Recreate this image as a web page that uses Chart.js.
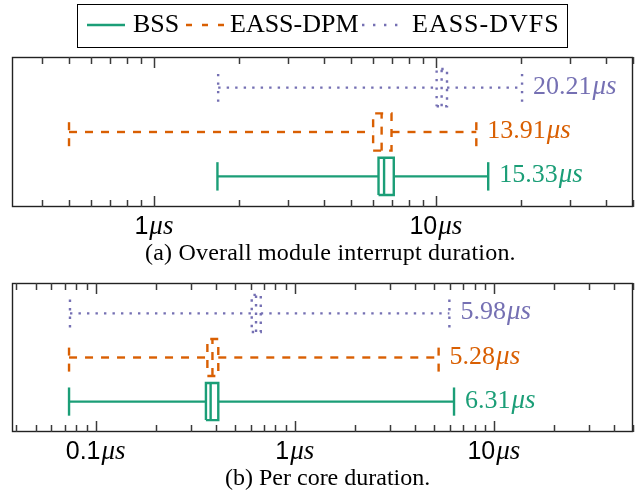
<!DOCTYPE html>
<html>
<head>
<meta charset="utf-8">
<script src="https://cdn.jsdelivr.net/npm/chart.js@4.4.1/dist/chart.umd.min.js"></script>
<style>
  html, body { margin: 0; padding: 0; background: #fff; }
  #wrap { position: relative; width: 639px; height: 501px; overflow: hidden; }
  canvas { position: absolute; left: 0; }
  .txt { position: absolute; font-family: 'Liberation Serif', 'Times New Roman', serif; color: #000; white-space: nowrap; }
  #legend { position: absolute; left: 77px; top: 4px; width: 489px; height: 42px; border: 1px solid #000; box-sizing: content-box; }
  .leg { font-size: 26px; line-height: 26px; }
  .cap { font-size: 24px; line-height: 24px; }
</style>
</head>
<body>
<div id="wrap">
  <canvas id="chartA" width="639" height="250" style="top:0px"></canvas>
  <canvas id="chartB" width="639" height="251" style="top:250px"></canvas>
  <div id="legend"></div>
  <div class="txt leg" style="left:133px;top:10.5px">BSS</div>
  <div class="txt leg" style="left:230px;top:10.5px">EASS-DPM</div>
  <div class="txt leg" style="left:412px;top:10.5px;letter-spacing:1px">EASS-DVFS</div>
  <div class="txt cap" style="left:145px;top:239.5px;letter-spacing:0.2px">(a) Overall module interrupt duration.</div>
  <div class="txt cap" style="left:225px;top:464.5px">(b) Per core duration.</div>
</div>
<script>
// ---- data ----
const categories = ['BSS', 'EASS-DPM', 'EASS-DVFS'];
const seriesColors = ['#1b9e77', '#d95f02', '#7570b3'];

// (a) Overall module interrupt duration (microseconds)
const overallMin    = [1.68, 0.50, 1.69];
const overallQ1     = [6.26, 5.99, 10.06];
const overallMedian = [6.55, 6.42, 10.48];
const overallQ3     = [7.09, 6.96, 10.95];
const overallMax    = [15.33, 13.91, 20.21];

// (b) Per core duration (microseconds)
const perCoreMin    = [0.0735, 0.0735, 0.0743];
const perCoreQ1     = [0.358, 0.364, 0.608];
const perCoreMedian = [0.378, 0.386, 0.639];
const perCoreQ3     = [0.413, 0.413, 0.675];
const perCoreMax    = [6.31, 5.28, 5.98];

// tick labels
const tickValuesA = [1, 10];
const tickLabelsA = ['1', '10'];
const tickValuesB = [0.1, 1, 10];
const tickLabelsB = ['0.1', '1', '10'];
const unitLabel = 'μs';

// ---- style ----
const dashes = [[], [8, 8], [2.4, 6.1]];
const legendDashes = [[], [6, 10], [2.4, 8.6]];
const legendSamples = [[87, 125], [186, 224], [362, 406]];
const BOX_HALF = 0.42, CAP_HALF = 0.32;

function boxDatasets(mins, q1s, meds, q3s, maxs) {
  const ds = [];
  categories.forEach((c, i) => {
    const r = i;
    const st = { label: c, borderColor: seriesColors[i], backgroundColor: seriesColors[i],
      borderWidth: 2.4, borderDash: dashes[i], pointRadius: 0, pointHoverRadius: 0,
      showLine: true, fill: false, tension: 0, clip: false, borderJoinStyle: 'miter' };
    const seg = pts => ds.push(Object.assign({}, st, { data: pts }));
    seg([{ x: mins[i], y: r }, { x: q1s[i], y: r }]);
    seg([{ x: q3s[i], y: r }, { x: maxs[i], y: r }]);
    seg([{ x: q1s[i], y: r - BOX_HALF }, { x: q3s[i], y: r - BOX_HALF }, { x: q3s[i], y: r + BOX_HALF },
         { x: q1s[i], y: r + BOX_HALF }, { x: q1s[i], y: r - BOX_HALF }]);
    seg([{ x: meds[i], y: r - BOX_HALF }, { x: meds[i], y: r + BOX_HALF }]);
    seg([{ x: mins[i], y: r - CAP_HALF }, { x: mins[i], y: r + CAP_HALF }]);
    seg([{ x: maxs[i], y: r - CAP_HALF }, { x: maxs[i], y: r + CAP_HALF }]);
  });
  return ds;
}

const framePlugin = {
  id: 'frameTicks',
  afterDraw(chart) {
    const cfg = chart.options.plugins.frameTicks;
    const { ctx, chartArea: a } = chart;
    const x = chart.scales.x, y = chart.scales.y;
    ctx.save();
    ctx.setLineDash([]);
    // frame
    ctx.strokeStyle = '#222';
    ctx.lineWidth = 1.4;
    ctx.strokeRect(a.left + 0.5, a.top + 0.5, a.right - a.left - 1, a.bottom - a.top - 1);
    // tick marks inside, top and bottom
    ctx.strokeStyle = '#3a3a3a';
    ctx.lineWidth = 1.5;
    const e0 = Math.floor(Math.log10(x.min)), e1 = Math.ceil(Math.log10(x.max));
    for (let e = e0; e <= e1; e++) {
      for (let m = 1; m <= 9; m++) {
        const v = m * Math.pow(10, e);
        if (v < x.min || v > x.max) continue;
        const px = Math.round(x.getPixelForValue(v)) + 0.5;
        const len = m === 1 ? 11 : 7;
        ctx.beginPath();
        ctx.moveTo(px, a.top);
        ctx.lineTo(px, a.top + len);
        ctx.stroke();
        ctx.beginPath();
        ctx.moveTo(px, a.bottom);
        ctx.lineTo(px, a.bottom - len);
        ctx.stroke();
      }
    }
    // tick labels
    ctx.fillStyle = '#000';
    ctx.textBaseline = 'alphabetic';
    const numFont = "25px 'Liberation Sans', Arial, sans-serif";
    const unitFont = "italic 27px 'Liberation Serif', serif";
    cfg.tickValues.forEach((v, i) => {
      const px = x.getPixelForValue(v);
      ctx.font = numFont; const w1 = ctx.measureText(cfg.tickLabels[i]).width;
      ctx.font = unitFont; const w2 = ctx.measureText(unitLabel).width;
      const x0 = px - (w1 + w2 + 1) / 2;
      ctx.font = numFont; ctx.fillText(cfg.tickLabels[i], x0, cfg.labelBaseline);
      ctx.font = unitFont; ctx.fillText(unitLabel, x0 + w1 + 1, cfg.labelBaseline);
    });
    // value labels at maximum whisker
    const valFont = "26px 'Liberation Serif', serif";
    cfg.maxValues.forEach((v, i) => {
      const px = x.getPixelForValue(v) + 11;
      const py = y.getPixelForValue(i) + 6;
      const s = v.toFixed(2);
      ctx.fillStyle = seriesColors[i];
      ctx.font = valFont; ctx.fillText(s, px, py);
      const w = ctx.measureText(s).width;
      ctx.font = unitFont; ctx.fillText(unitLabel, px + w + 1, py);
    });
    // legend line samples (only on the first panel)
    if (cfg.legend) {
      ctx.lineWidth = 2.4;
      categories.forEach((c, i) => {
        ctx.strokeStyle = seriesColors[i];
        ctx.setLineDash(legendDashes[i]);
        ctx.beginPath();
        ctx.moveTo(legendSamples[i][0], 25);
        ctx.lineTo(legendSamples[i][1], 25);
        ctx.stroke();
      });
      ctx.setLineDash([]);
    }
    ctx.restore();
  }
};

function makeChart(id, ds, xmin, xmax, pad, tickValues, tickLabels, labelBaseline, maxValues, legend) {
  return new Chart(document.getElementById(id), {
    type: 'scatter',
    data: { datasets: ds },
    options: {
      responsive: false, animation: false, devicePixelRatio: 1,
      layout: { padding: pad },
      scales: {
        x: { type: 'logarithmic', bounds: 'data', min: xmin, max: xmax, display: false },
        y: { type: 'linear', bounds: 'data', min: -0.69, max: 2.69, display: false }
      },
      plugins: {
        legend: { display: false }, tooltip: { enabled: false },
        frameTicks: { tickValues, tickLabels, labelBaseline, maxValues, legend }
      },
      events: []
    },
    plugins: [framePlugin]
  });
}

makeChart('chartA', boxDatasets(overallMin, overallQ1, overallMedian, overallQ3, overallMax),
  0.3139, 50, { left: 12, top: 57, right: 6, bottom: 43 }, tickValuesA, tickLabelsA, 234, overallMax, true);
makeChart('chartB', boxDatasets(perCoreMin, perCoreQ1, perCoreMedian, perCoreQ3, perCoreMax),
  0.038, 50, { left: 12, top: 33, right: 6, bottom: 69 }, tickValuesB, tickLabelsB, 209, perCoreMax, false);
</script>
</body>
</html>
